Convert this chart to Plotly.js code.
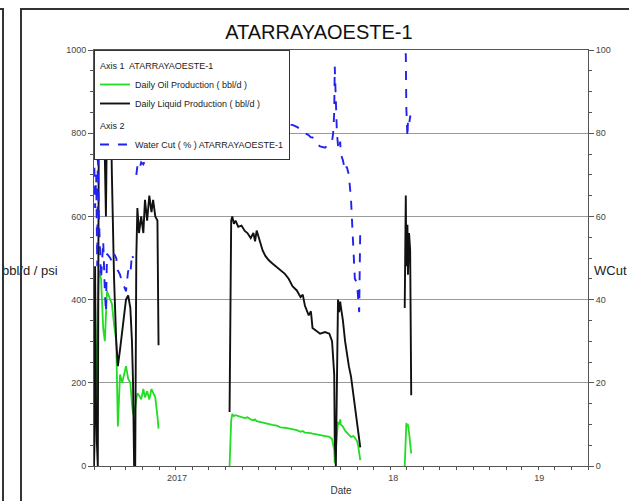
<!DOCTYPE html>
<html><head><meta charset="utf-8">
<script src="https://cdn.plot.ly/plotly-3.0.1.min.js"></script>
<style>
html,body{margin:0;padding:0;background:#fff;overflow:hidden}
#wrap{position:relative;width:629px;height:501px;overflow:hidden}
#chart{width:629px;height:501px}
.frame{position:absolute;border:2px solid #333;pointer-events:none;box-sizing:border-box}
</style></head><body>
<div id="wrap">
<div id="chart"></div>
<div class="frame" style="left:-20px;top:8px;width:24px;height:600px"></div>
<div class="frame" style="left:20px;top:8px;width:700px;height:600px"></div>
</div>
<script>
// ---- data ----
const seg1Dates = ['2017-01-01','2017-01-03','2017-01-05','2017-01-07','2017-01-08','2017-01-10','2017-01-14','2017-01-18','2017-01-21','2017-01-23','2017-01-25','2017-01-31','2017-02-03','2017-02-07','2017-02-11','2017-02-14','2017-02-18','2017-02-22','2017-02-26','2017-03-01','2017-03-05','2017-03-09','2017-03-12','2017-03-14','2017-03-16','2017-03-18','2017-03-20','2017-03-22','2017-03-25','2017-03-29','2017-04-02','2017-04-05','2017-04-09','2017-04-13','2017-04-17','2017-04-20','2017-04-24','2017-04-28','2017-04-30'];
const seg1Liquid = [0,480,100,0,0,900,1000,950,700,600,850,950,700,450,300,240,280,330,370,400,410,380,300,200,0,0,500,620,560,600,560,640,590,650,610,640,600,590,290];
const seg1Oil = [0,60,250,300,380,470,450,330,300,360,420,400,390,340,300,95,220,200,225,240,210,200,150,125,130,140,160,175,170,160,185,165,180,160,185,175,165,120,90];
const seg1WCut = [76,62,70,48,76,60,45,54,42,37,51,50,49,51,50,47,46,44,43,42,47,46,51,50,null,null,70,72,71,73,72.5,73.5,73,74,74,74.5,74,75,76];

const seg2Dates = ['2017-09-08','2017-09-10','2017-09-11','2017-09-13','2017-09-16','2017-09-19','2017-09-24','2017-09-30','2017-10-06','2017-10-11','2017-10-17','2017-10-22','2017-10-25','2017-10-28','2017-11-03','2017-11-08','2017-11-13','2017-11-19','2017-11-26','2017-12-04','2017-12-11','2017-12-19','2017-12-26','2018-01-02','2018-01-10','2018-01-17','2018-01-21','2018-01-25','2018-02-01','2018-02-05','2018-02-08','2018-02-15','2018-02-22','2018-03-03','2018-03-11','2018-03-16','2018-03-18','2018-03-20','2018-03-21','2018-03-23','2018-03-25','2018-03-27','2018-03-29','2018-03-31','2018-04-01','2018-04-05','2018-04-09','2018-04-12','2018-04-16','2018-04-20','2018-04-24','2018-04-27','2018-05-01','2018-05-03','2018-05-05','2018-05-07'];
const seg2Liquid = [130,450,590,600,582,590,575,578,565,560,548,560,540,566,540,518,505,495,487,478,472,462,450,432,422,406,412,385,362,372,332,325,318,322,318,300,270,220,60,0,200,400,370,395,385,350,300,270,240,215,170,135,105,85,60,45];
const seg2Oil = [0,60,110,125,120,122,120,118,115,117,112,110,112,108,106,105,103,100,99,97,93,92,90,88,86,82,84,80,80,79,78,76,75,73,70,65,50,38,7,40,90,106,100,112,100,95,85,80,75,70,72,68,60,50,30,14];
const seg2WCut = [85,85,80,79,79,79,80,80,81,80,81,80,81,81,80,81,81,82,81,82,82,82,82,82,81.5,81,80.5,80,79.5,79,79,77.6,76.8,76.5,77.5,78,80,85,96,86,80,77,76,78,75,73.5,71,72,70,64,53,45,44,40,37,57];

const seg3Dates = ['2018-07-28','2018-07-30','2018-07-31','2018-08-02','2018-08-03','2018-08-05','2018-08-07','2018-08-09'];
const seg3Liquid = [380,650,480,580,460,560,520,170];
const seg3Oil = [0,80,103,95,100,80,46,30];
const seg3WCut = [99,99,86,79,83,82,84,84];

const xTickDates = ['2017-06-03','2018-07-07','2019-04-02'];
const xTickLabels = ['2017','18','19'];
const yearGridDates = ['2018-01-01','2019-01-01'];
const leftTicks = [0,200,400,600,800,1000];
const rightTicks = [0,20,40,60,80,100];

// join segments; a null value breaks the line between segments
function join(a,b,c){return a.concat([null],b,[null],c);}
function joinDates(a,b,c){return a.concat([a[a.length-1]],b,[b[b.length-1]],c);}
const dates = joinDates(seg1Dates,seg2Dates,seg3Dates);
const liquid = join(seg1Liquid,seg2Liquid,seg3Liquid);
const oil = join(seg1Oil,seg2Oil,seg3Oil);
const wcut = join(seg1WCut,seg2WCut,seg3WCut);

const traces = [
 {x:dates,y:oil,type:'scatter',mode:'lines',name:'Daily Oil Production ( bbl/d )',
  line:{color:'#22dd22',width:1.8},legendgroup:'a1',
  legendgrouptitle:{text:'Axis 1  ATARRAYAOESTE-1',font:{size:9,color:'#222'}}},
 {x:dates,y:liquid,type:'scatter',mode:'lines',name:'Daily Liquid Production ( bbl/d )',
  line:{color:'#111111',width:1.9},legendgroup:'a1'},
 {x:dates,y:wcut,type:'scatter',mode:'lines',name:'Water Cut ( % ) ATARRAYAOESTE-1',
  line:{color:'#2222ee',width:1.9,dash:'dash'},legendgroup:'a2',yaxis:'y2',
  legendgrouptitle:{text:'Axis 2',font:{size:9,color:'#222'}}}
];

const tickFont = {family:'Arial, Liberation Sans, sans-serif',size:9,color:'#444'};
const layout = {
 width:629,height:501,
 margin:{l:94,r:41,t:50,b:35,pad:0},
 paper_bgcolor:'rgba(0,0,0,0)',plot_bgcolor:'#fff',
 font:{family:'Arial, Liberation Sans, sans-serif',color:'#222'},
 showlegend:true,
 title:{text:'ATARRAYAOESTE-1',font:{size:20,color:'#111'},x:0.507,xref:'container',y:0.936,yref:'container',yanchor:'middle'},
 xaxis:{type:'date',range:['2017-01-01','2019-07-01'],tickmode:'array',tickvals:xTickDates,ticktext:xTickLabels,
  ticks:'outside',ticklen:3,tickcolor:'rgba(0,0,0,0)',showgrid:false,zeroline:false,showline:true,linecolor:'#555',linewidth:1,mirror:true,
  tickfont:tickFont,automargin:false,
  minor:{ticks:'outside',dtick:'M1',tick0:'2017-01-01',ticklen:3,tickcolor:'#555',showgrid:false},
  title:{text:'Date',font:{size:10,color:'#333'},standoff:5}},
 xaxis2:{type:'date',overlaying:'x',matches:'x',range:['2017-01-01','2019-07-01'],tickmode:'array',tickvals:yearGridDates,
  showticklabels:false,ticks:'outside',ticklen:5,tickcolor:'#555',showgrid:true,gridcolor:'#9a9a9a',gridwidth:1,
  showline:false,zeroline:false},
 yaxis:{range:[0,1000],tickmode:'array',tickvals:leftTicks,ticks:'outside',ticklen:5,tickcolor:'#555',
  showgrid:true,gridcolor:'#9a9a9a',gridwidth:1,zeroline:false,showline:true,linecolor:'#555',linewidth:1,
  tickfont:tickFont,automargin:false,
  minor:{ticks:'outside',dtick:50,ticklen:3,tickcolor:'#555',showgrid:false}},
 yaxis2:{range:[0,100],overlaying:'y',side:'right',tickmode:'array',tickvals:rightTicks,ticks:'outside',ticklen:5,tickcolor:'#555',
  showgrid:false,zeroline:false,showline:true,linecolor:'#555',linewidth:1,tickfont:tickFont,automargin:false,
  minor:{ticks:'outside',dtick:5,ticklen:3,tickcolor:'#555',showgrid:false}},
 legend:{x:0,y:1,xanchor:'left',yanchor:'top',bgcolor:'#fff',bordercolor:'#333',borderwidth:1,
  font:{size:9,color:'#222'},traceorder:'grouped',tracegroupgap:3,itemwidth:30},
 annotations:[
  {text:'bbl/d / psi',xref:'paper',yref:'paper',x:-0.19,y:0.471,xanchor:'left',yanchor:'middle',showarrow:false,font:{size:13,color:'#222'}},
  {text:'WCut',xref:'paper',yref:'paper',x:1.008,y:0.471,xanchor:'left',yanchor:'middle',showarrow:false,font:{size:13,color:'#222'}}
 ]
};
Plotly.newPlot('chart',traces,layout,{staticPlot:true,displayModeBar:false});
</script>
</body></html>
